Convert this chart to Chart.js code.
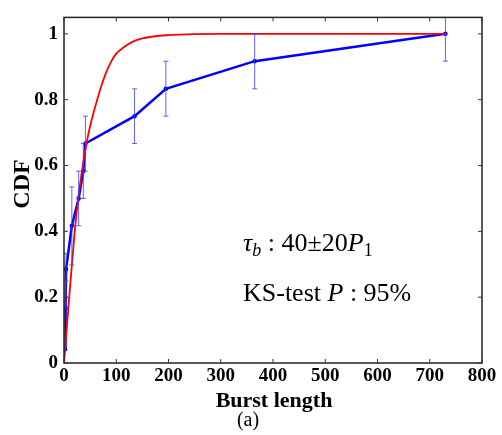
<!DOCTYPE html>
<html>
<head>
<meta charset="utf-8">
<script src="https://cdn.jsdelivr.net/npm/chart.js@4.4.0/dist/chart.umd.min.js"></script>
<style>
  body { margin: 0; background: #fff; }
  #wrap { width: 502px; height: 435px; position: relative; }
</style>
</head>
<body>
<div id="wrap"><canvas id="myChart"></canvas></div>
<script>
// empirical CDF points (blue) with error bar bounds
const blueX = [2, 3, 4, 15, 28, 37, 41, 135, 195, 365, 730];
const blueY = [0.042, 0.167, 0.285, 0.417, 0.5, 0.583, 0.667, 0.75, 0.833, 0.917, 1.0];
const blueLo = [0.042, 0.167, 0.2, 0.298, 0.417, 0.5, 0.583, 0.667, 0.75, 0.833, 0.917];
const blueHi = [0.042, 0.25, 0.333, 0.535, 0.583, 0.667, 0.75, 0.833, 0.917, 1.0, 1.083];

// fitted curve (red)
const redX = [0, 10, 20, 28, 40, 50, 60, 70, 80, 90, 100, 115, 130, 150, 170, 200, 250, 300, 730];
const redY = [0, 0.2, 0.39, 0.51, 0.64, 0.72, 0.78, 0.835, 0.88, 0.915, 0.94, 0.96, 0.975, 0.986, 0.992, 0.996, 0.999, 1.0, 1.0];

const xTicks = [0, 100, 200, 300, 400, 500, 600, 700, 800];
const yTicks = [0, 0.2, 0.4, 0.6, 0.8, 1];

const SERIF = "'Liberation Serif', 'Times New Roman', serif";
const FRAME = "#222";

const toPts = (xs, ys) => xs.map((x, i) => ({ x: x, y: ys[i] }));

// frame, inward ticks, error bars and text
const extras = {
  id: "extras",
  afterDatasetsDraw(chart) {
    const ctx = chart.ctx;
    const a = chart.chartArea;
    const sx = chart.scales.x;
    const sy = chart.scales.y;

    // error bars
    ctx.save();
    ctx.beginPath();
    ctx.rect(a.left, a.top, a.right - a.left, a.bottom - a.top);
    ctx.clip();
    ctx.strokeStyle = "rgba(60,60,255,0.8)";
    ctx.lineWidth = 1;
    blueX.forEach((x, i) => {
      if (blueHi[i] - blueLo[i] < 0.001) return;
      const px = sx.getPixelForValue(x);
      const p1 = sy.getPixelForValue(blueLo[i]);
      const p2 = sy.getPixelForValue(blueHi[i]);
      ctx.beginPath();
      ctx.moveTo(px, p1); ctx.lineTo(px, p2);
      ctx.moveTo(px - 2.5, p1); ctx.lineTo(px + 2.5, p1);
      ctx.moveTo(px - 2.5, p2); ctx.lineTo(px + 2.5, p2);
      ctx.stroke();
    });
    ctx.restore();

    // frame
    ctx.save();
    ctx.strokeStyle = FRAME;
    ctx.lineWidth = 1.5;
    ctx.strokeRect(a.left, a.top, a.right - a.left, a.bottom - a.top);

    // ticks pointing inside on all sides
    ctx.lineWidth = 1;
    ctx.strokeStyle = "#333";
    ctx.beginPath();
    xTicks.forEach((t) => {
      const px = sx.getPixelForValue(t);
      ctx.moveTo(px, a.bottom); ctx.lineTo(px, a.bottom - 4);
      ctx.moveTo(px, a.top); ctx.lineTo(px, a.top + 4);
    });
    yTicks.forEach((t) => {
      const py = sy.getPixelForValue(t);
      ctx.moveTo(a.left, py); ctx.lineTo(a.left + 4, py);
      ctx.moveTo(a.right, py); ctx.lineTo(a.right - 4, py);
    });
    ctx.stroke();
    ctx.restore();

    // labels and annotations
    ctx.save();
    ctx.fillStyle = "#000";
    ctx.textBaseline = "alphabetic";

    ctx.save();
    ctx.translate(29, 184);
    ctx.rotate(-Math.PI / 2);
    ctx.textAlign = "center";
    ctx.font = "bold 24px " + SERIF;
    ctx.fillText("CDF", 0, 0);
    ctx.restore();

    ctx.textAlign = "center";
    ctx.font = "bold 22px " + SERIF;
    ctx.fillText("Burst length", 274, 407);
    ctx.font = "20px " + SERIF;
    ctx.fillText("(a)", 248, 426);

    // tau line
    ctx.textAlign = "left";
    let x = 243;
    const base = 251;
    const parts = [
      ["τ", "italic 26px ", 0],
      ["b", "italic 18px ", 5],
      [" : 40±20", "26px ", 0],
      ["P", "italic 26px ", 0],
      ["1", "18px ", 5],
    ];
    parts.forEach((p) => {
      ctx.font = p[1] + SERIF;
      ctx.fillText(p[0], x, base + p[2]);
      x += ctx.measureText(p[0]).width;
    });

    x = 243;
    const base2 = 301;
    [["KS-test ", "26px "], ["P", "italic 26px "], [" : 95%", "26px "]].forEach((p) => {
      ctx.font = p[1] + SERIF;
      ctx.fillText(p[0], x, base2);
      x += ctx.measureText(p[0]).width;
    });
    ctx.restore();
  },
};

const config = {
  type: "line",
  data: {
    datasets: [
      {
        label: "fit",
        data: toPts(redX, redY),
        borderColor: "#ff0000",
        borderWidth: 1.8,
        pointRadius: 0,
        cubicInterpolationMode: "monotone",
        fill: false,
      },
      {
        label: "data",
        data: toPts(blueX, blueY),
        borderColor: "#0000ff",
        backgroundColor: "#0000ff",
        borderWidth: 2.5,
        pointRadius: 1,
        tension: 0,
        fill: false,
      },
    ],
  },
  options: {
    responsive: true,
    maintainAspectRatio: false,
    animation: false,
    layout: { padding: { top: 8, right: 20, left: 0, bottom: 0 } },
    plugins: {
      legend: { display: false },
      tooltip: { enabled: false },
    },
    scales: {
      x: {
        type: "linear",
        min: 0,
        max: 800,
        afterFit: (s) => { s.height = 72; },
        grid: { display: false, drawTicks: false },
        border: { display: false },
        ticks: {
          stepSize: 100,
          padding: 2,
          color: "#000",
          maxRotation: 0,
          font: { family: SERIF, size: 19, weight: "bold" },
        },
      },
      y: {
        type: "linear",
        min: 0,
        max: 1.05,
        afterFit: (s) => { s.width = 64; },
        afterBuildTicks: (s) => {
          s.ticks = yTicks.map((v) => ({ value: v }));
        },
        grid: { display: false, drawTicks: false },
        border: { display: false },
        ticks: {
          padding: 6,
          color: "#000",
          font: { family: SERIF, size: 19, weight: "bold" },
          callback: (v) => String(+v.toFixed(1)),
        },
      },
    },
  },
  plugins: [extras],
};

let myChart = document.getElementById("myChart");
let new_chart = new Chart(myChart.getContext("2d"), config);
</script>
</body>
</html>
